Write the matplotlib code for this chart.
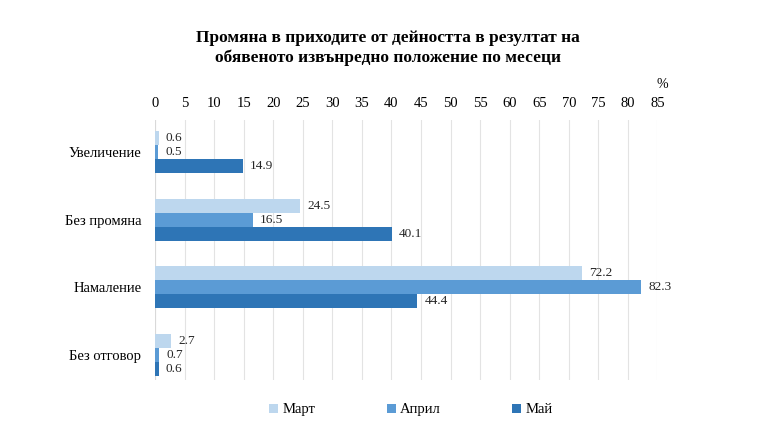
import matplotlib
matplotlib.use("Agg")
import matplotlib.pyplot as plt
import numpy as np

plt.rcParams["font.family"] = ["Liberation Serif", "DejaVu Serif"]

categories = ["Увеличение", "Без промяна", "Намаление", "Без отговор"]
series = ["Март", "Април", "Май"]
mart = [0.6, 24.5, 72.2, 2.7]
april = [0.5, 16.5, 82.3, 0.7]
mai = [14.9, 40.1, 44.4, 0.6]
colors = ["#BDD7EE", "#5B9BD5", "#2E75B6"]
xticks = list(range(0, 90, 5))

fig = plt.figure(figsize=(7.68, 4.30), dpi=100)
ax = fig.add_axes([0.202, 0.116, 0.654, 0.605])

y = np.arange(len(categories))
h = 0.207
for i, (name, vals) in enumerate(zip(series, [mart, april, mai])):
    pos = y + (i - 1) * h
    ax.barh(pos, vals, height=h, color=colors[i], label=name, zorder=3)
    for p, v in zip(pos, vals):
        ax.text(v + 1.2, p, f"{v:.1f}", va="center", ha="left", fontsize=9.5, color="#262626")

ax.set_ylim(3.37, -0.47)
ax.set_xlim(0, 85)
ax.set_yticks(y)
ax.set_yticklabels(categories, fontsize=10.5)
ax.set_xticks(xticks)
ax.xaxis.tick_top()
ax.tick_params(axis="x", length=0, labelsize=10.5, pad=7)
ax.tick_params(axis="y", length=0, pad=10)
ax.grid(axis="x", color="#E3E3E3", lw=0.8, zorder=0)
for s in ax.spines.values():
    s.set_visible(False)
ax.axvline(0, color="#D9D9D9", lw=0.8, zorder=2)

fig.text(0.863, 0.795, "%", fontsize=10, ha="center")
fig.text(0.505, 0.889, "Промяна в приходите от дейността в резултат на\nобявеното извънредно положение по месеци",
         ha="center", va="center", fontsize=12.5, fontweight="bold", linespacing=1.3)

fig.legend(loc="center", bbox_to_anchor=(0.535, 0.047), ncol=3, frameon=False,
           fontsize=10.5, handlelength=0.6, handleheight=0.6, handletextpad=0.3,
           columnspacing=4.9)

fig.savefig("out.png", dpi=100)
